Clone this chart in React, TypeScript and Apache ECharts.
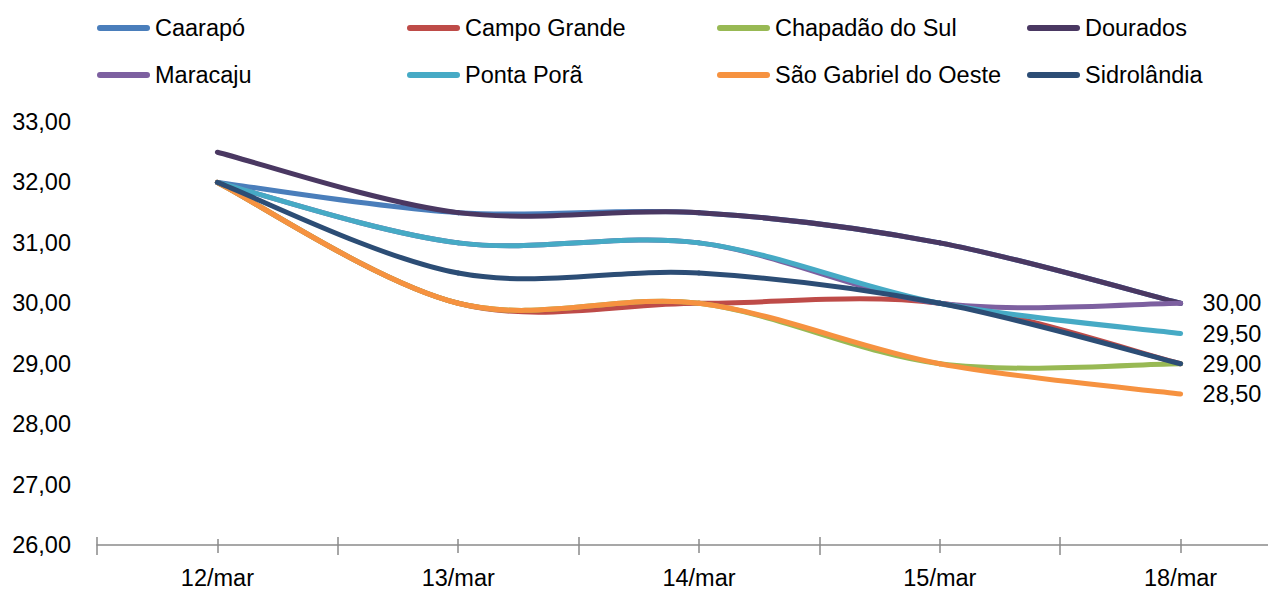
import React, { useEffect, useRef } from "react";
import * as echarts from "echarts";

// Preço (R$) por praça, março
const categories = ["12/mar", "13/mar", "14/mar", "15/mar", "18/mar"];

const caarapo = [32, 31.5, 31.5, 31, 30];
const campoGrande = [32, 30, 30, 30, 29];
const chapadaoDoSul = [32, 30, 30, 29, 29];
const dourados = [32.5, 31.5, 31.5, 31, 30];
const maracaju = [32, 31, 31, 30, 30];
const pontaPora = [32, 31, 31, 30, 29.5];
const saoGabriel = [32, 30, 30, 29, 28.5];
const sidrolandia = [32, 30.5, 30.5, 30, 29];

const yMin = 26;
const yMax = 33;
const yStep = 1;

const FONT = "'Liberation Sans', Arial, sans-serif";
const FONT_SIZE = 23.5;
const AXIS_GREY = "#8a8a8a";
const LINE_WIDTH = 5;
// Catmull-Rom style smoothing: control point = p ± (next - prev) / 6
const TENSION = 1 / 6;

const fmt = (v: number) => v.toFixed(2).replace(".", ",");

type Row = { name: string; data: number[]; color: string; endLabel: boolean };

const rows: Row[] = [
  { name: "Caarapó", data: caarapo, color: "#4A7EBB", endLabel: false },
  { name: "Campo Grande", data: campoGrande, color: "#BE4B48", endLabel: false },
  { name: "Chapadão do Sul", data: chapadaoDoSul, color: "#98B954", endLabel: false },
  { name: "Dourados", data: dourados, color: "#4A3862", endLabel: true },
  { name: "Maracaju", data: maracaju, color: "#7D60A0", endLabel: false },
  { name: "Ponta Porã", data: pontaPora, color: "#46AAC5", endLabel: true },
  { name: "São Gabriel do Oeste", data: saoGabriel, color: "#F69240", endLabel: true },
  { name: "Sidrolândia", data: sidrolandia, color: "#2C4D75", endLabel: true },
];

// rounded bar used as legend key
const LEGEND_ICON = "path://M3,0 H50 A3,3 0 0 1 50,6 H3 A3,3 0 0 1 3,0 Z";

const legendColumns = [
  [rows[0].name, rows[4].name],
  [rows[1].name, rows[5].name],
  [rows[2].name, rows[6].name],
  [rows[3].name, rows[7].name],
];
const legendLeft = [97, 407, 717, 1027];

function tickAxis(opts: { alignWithLabel: boolean; inside: boolean; length: number; main?: boolean }) {
  return {
    type: "category" as const,
    data: categories,
    position: "bottom" as const,
    boundaryGap: true,
    axisLine: { show: !!opts.main, lineStyle: { color: AXIS_GREY, width: 1.5 } },
    axisTick: {
      show: true,
      interval: 0,
      alignWithLabel: opts.alignWithLabel,
      inside: opts.inside,
      length: opts.length,
      lineStyle: { color: AXIS_GREY, width: 1.5 },
    },
    axisLabel: opts.main
      ? { show: true, interval: 0, margin: 21, color: "#000", fontSize: FONT_SIZE, fontFamily: FONT }
      : { show: false },
    splitLine: { show: false },
  };
}

// Each data item draws the smoothed segment towards the next point;
// the last item carries the optional value label.
function makeRenderItem(row: Row) {
  return (params: any, api: any) => {
    const i = params.dataIndex;
    const n = row.data.length;
    const pt = (k: number) => {
      const kk = Math.max(0, Math.min(n - 1, k));
      return api.coord([kk, row.data[kk]]);
    };
    if (i === n - 1) {
      if (!row.endLabel) return null;
      const p = pt(i);
      return {
        type: "text",
        silent: true,
        style: {
          text: fmt(row.data[i]),
          x: p[0] + 22,
          y: p[1],
          fill: "#000",
          fontSize: FONT_SIZE,
          fontFamily: FONT,
          align: "left",
          verticalAlign: "middle",
        },
      };
    }
    const p0 = pt(i - 1);
    const p1 = pt(i);
    const p2 = pt(i + 1);
    const p3 = pt(i + 2);
    return {
      type: "bezierCurve",
      silent: true,
      shape: {
        x1: p1[0],
        y1: p1[1],
        x2: p2[0],
        y2: p2[1],
        cpx1: p1[0] + (p2[0] - p0[0]) * TENSION,
        cpy1: p1[1] + (p2[1] - p0[1]) * TENSION,
        cpx2: p2[0] - (p3[0] - p1[0]) * TENSION,
        cpy2: p2[1] - (p3[1] - p1[1]) * TENSION,
      },
      style: {
        fill: "none",
        stroke: row.color,
        lineWidth: LINE_WIDTH,
        lineCap: "round",
        lineJoin: "round",
      },
    };
  };
}

export default function App() {
  const ref = useRef<HTMLDivElement>(null);

  useEffect(() => {
    if (!ref.current) return;
    const chart = echarts.init(ref.current, undefined, { renderer: "svg" });

    chart.setOption({
      animation: false,
      backgroundColor: "#fff",
      textStyle: { fontFamily: FONT },
      legend: legendColumns.map((names, i) => ({
        show: true,
        orient: "vertical",
        left: legendLeft[i],
        top: 16,
        padding: 0,
        itemGap: 23,
        itemWidth: 53,
        itemHeight: 6,
        icon: LEGEND_ICON,
        selectedMode: false,
        data: names,
        textStyle: { color: "#000", fontSize: FONT_SIZE, fontFamily: FONT },
      })),
      grid: { left: 97, right: 19, top: 122, bottom: 44, containLabel: false },
      xAxis: [
        tickAxis({ alignWithLabel: false, inside: false, length: 10, main: true }),
        tickAxis({ alignWithLabel: false, inside: true, length: 8 }),
        tickAxis({ alignWithLabel: true, inside: false, length: 8 }),
        tickAxis({ alignWithLabel: true, inside: true, length: 6 }),
      ],
      yAxis: {
        type: "value",
        min: yMin,
        max: yMax,
        interval: yStep,
        axisLine: { show: false },
        axisTick: { show: false },
        splitLine: { show: false },
        axisLabel: {
          margin: 26,
          color: "#000",
          fontSize: FONT_SIZE,
          fontFamily: FONT,
          formatter: (v: number) => fmt(v),
        },
      },
      series: rows.map((r) => ({
        name: r.name,
        type: "custom",
        xAxisIndex: 0,
        yAxisIndex: 0,
        data: r.data.map((v, i) => [i, v]),
        encode: { x: 0, y: 1 },
        itemStyle: { color: r.color },
        renderItem: makeRenderItem(r),
        clip: false,
      })),
    });

    return () => chart.dispose();
  }, []);

  return (
    <div
      style={{
        position: "fixed",
        left: 0,
        top: 0,
        width: 1268,
        height: 590,
        overflow: "hidden",
        background: "#fff",
      }}
    >
      <div ref={ref} style={{ width: 1320, height: 590 }} />
    </div>
  );
}
